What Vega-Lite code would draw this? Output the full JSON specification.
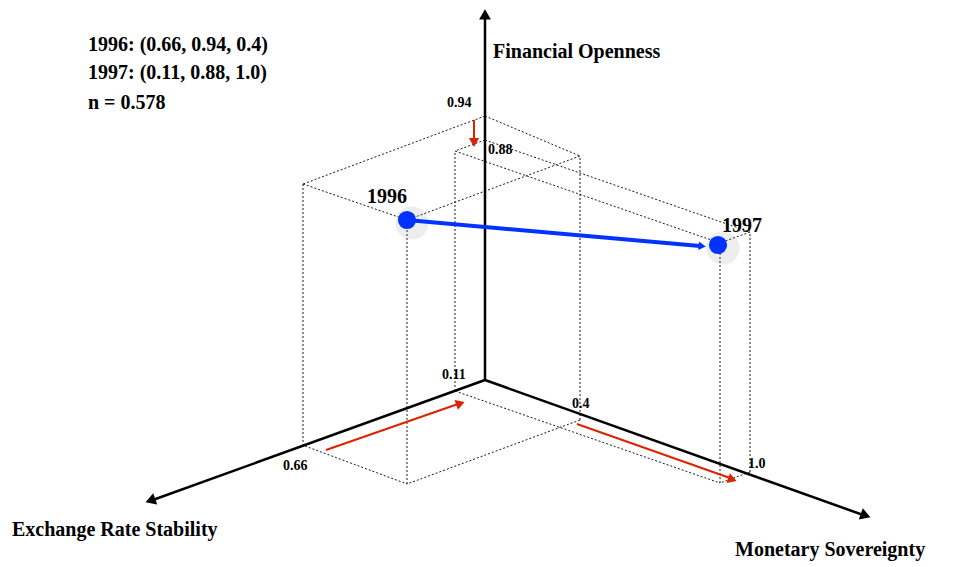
{
  "$schema": "https://vega.github.io/schema/vega-lite/v6.json",
  "width": 964,
  "height": 567,
  "autosize": {"type": "fit", "contains": "padding"},
  "padding": 0,
  "background": "white",
  "config": {"view": {"stroke": null}},
  "datasets": {
    "segs": [
      {"g": "axis", "x": 485, "y": 380, "x2": 485, "y2": 14},
      {"g": "axis", "x": 485, "y": 380, "x2": 150, "y2": 501},
      {"g": "axis", "x": 485, "y": 380, "x2": 866, "y2": 516},
      {"g": "dot", "x": 305, "y": 446, "x2": 407, "y2": 484},
      {"g": "dot", "x": 580, "y": 420, "x2": 407, "y2": 484},
      {"g": "dot", "x": 485, "y": 116, "x2": 303, "y2": 184},
      {"g": "dot", "x": 485, "y": 116, "x2": 580, "y2": 156},
      {"g": "dot", "x": 303, "y": 184, "x2": 407, "y2": 220},
      {"g": "dot", "x": 580, "y": 156, "x2": 407, "y2": 220},
      {"g": "dot", "x": 303, "y": 446, "x2": 303, "y2": 184},
      {"g": "dot", "x": 580, "y": 420, "x2": 580, "y2": 156},
      {"g": "dot", "x": 407, "y": 484, "x2": 407, "y2": 220},
      {"g": "dot", "x": 455, "y": 391, "x2": 720, "y2": 483},
      {"g": "dot", "x": 750, "y": 472, "x2": 720, "y2": 483},
      {"g": "dot", "x": 485, "y": 140, "x2": 455, "y2": 151},
      {"g": "dot", "x": 485, "y": 140, "x2": 750, "y2": 232},
      {"g": "dot", "x": 455, "y": 151, "x2": 720, "y2": 243},
      {"g": "dot", "x": 750, "y": 232, "x2": 720, "y2": 243},
      {"g": "dot", "x": 455, "y": 391, "x2": 455, "y2": 151},
      {"g": "dot", "x": 750, "y": 472, "x2": 750, "y2": 232},
      {"g": "dot", "x": 720, "y": 483, "x2": 720, "y2": 243},
      {"g": "red", "x": 326, "y": 450, "x2": 458, "y2": 404},
      {"g": "red", "x": 577, "y": 424, "x2": 730, "y2": 478},
      {"g": "red", "x": 474, "y": 120, "x2": 474, "y2": 140},
      {"g": "blue", "x": 407, "y": 220, "x2": 700, "y2": 246}
    ],
    "heads": [
      {"g": "axis", "x": 485, "y": 16, "a": 0},
      {"g": "axis", "x": 152, "y": 500, "a": 250},
      {"g": "axis", "x": 864, "y": 515, "a": 110},
      {"g": "red", "x": 459, "y": 404, "a": 71},
      {"g": "red", "x": 731, "y": 479, "a": 109},
      {"g": "red", "x": 474, "y": 141, "a": 180},
      {"g": "blue", "x": 701, "y": 246, "a": 95}
    ],
    "pts": [
      {"year": "1996", "x": 407, "y": 220},
      {"year": "1997", "x": 718, "y": 245}
    ],
    "labels": [
      {"g": "big", "x": 88, "y": 45, "t": "1996: (0.66, 0.94, 0.4)"},
      {"g": "big", "x": 88, "y": 73, "t": "1997: (0.11, 0.88, 1.0)"},
      {"g": "big", "x": 88, "y": 103, "t": "n = 0.578"},
      {"g": "big", "x": 493, "y": 52, "t": "Financial Openness"},
      {"g": "big", "x": 12, "y": 530, "t": "Exchange Rate Stability"},
      {"g": "big", "x": 735, "y": 550, "t": "Monetary Sovereignty"},
      {"g": "big", "x": 367, "y": 197, "t": "1996"},
      {"g": "big", "x": 722, "y": 226, "t": "1997"},
      {"g": "small", "x": 447, "y": 103, "t": "0.94"},
      {"g": "small", "x": 488, "y": 150, "t": "0.88"},
      {"g": "small", "x": 442, "y": 375, "t": "0.11"},
      {"g": "small", "x": 283, "y": 466, "t": "0.66"},
      {"g": "small", "x": 572, "y": 404, "t": "0.4"},
      {"g": "small", "x": 748, "y": 464, "t": "1.0"}
    ]
  },
  "encoding": {
    "x": {"field": "x", "type": "quantitative", "scale": {"domain": [0, 964]}, "axis": null},
    "y": {"field": "y", "type": "quantitative", "scale": {"domain": [567, 0]}, "axis": null}
  },
  "layer": [
    {
      "data": {"name": "segs"},
      "transform": [{"filter": "datum.g == 'dot'"}],
      "mark": {"type": "rule", "color": "black", "strokeWidth": 0.9, "strokeDash": [2, 2]},
      "encoding": {"x2": {"field": "x2"}, "y2": {"field": "y2"}}
    },
    {
      "data": {"name": "segs"},
      "transform": [{"filter": "datum.g == 'axis'"}],
      "mark": {"type": "rule", "color": "black", "strokeWidth": 2.5},
      "encoding": {"x2": {"field": "x2"}, "y2": {"field": "y2"}}
    },
    {
      "data": {"name": "segs"},
      "transform": [{"filter": "datum.g == 'red'"}],
      "mark": {"type": "rule", "color": "#dd2200", "strokeWidth": 2},
      "encoding": {"x2": {"field": "x2"}, "y2": {"field": "y2"}}
    },
    {
      "data": {"name": "pts"},
      "mark": {"type": "circle", "color": "#888888", "opacity": 0.15, "size": 1100, "xOffset": 5, "yOffset": 3}
    },
    {
      "data": {"name": "segs"},
      "transform": [{"filter": "datum.g == 'blue'"}],
      "mark": {"type": "rule", "color": "#0033ff", "strokeWidth": 4},
      "encoding": {"x2": {"field": "x2"}, "y2": {"field": "y2"}}
    },
    {
      "data": {"name": "heads"},
      "mark": {"type": "point", "shape": "triangle", "filled": true, "opacity": 1},
      "encoding": {
        "angle": {"field": "a", "type": "quantitative", "scale": null},
        "color": {"field": "g", "type": "nominal", "scale": {"domain": ["axis", "red", "blue"], "range": ["black", "#dd2200", "#0033ff"]}, "legend": null},
        "size": {"field": "g", "type": "nominal", "scale": {"domain": ["axis", "red", "blue"], "range": [140, 70, 200]}, "legend": null}
      }
    },
    {
      "data": {"name": "pts"},
      "mark": {"type": "circle", "color": "#0033ff", "opacity": 1, "size": 330}
    },
    {
      "data": {"name": "labels"},
      "transform": [{"filter": "datum.g == 'big'"}],
      "mark": {"type": "text", "align": "left", "baseline": "middle", "font": "Liberation Serif", "fontWeight": "bold", "fontSize": 20, "color": "black"},
      "encoding": {"text": {"field": "t"}}
    },
    {
      "data": {"name": "labels"},
      "transform": [{"filter": "datum.g == 'small'"}],
      "mark": {"type": "text", "align": "left", "baseline": "middle", "font": "Liberation Serif", "fontWeight": "bold", "fontSize": 14, "color": "black"},
      "encoding": {"text": {"field": "t"}}
    }
  ]
}
